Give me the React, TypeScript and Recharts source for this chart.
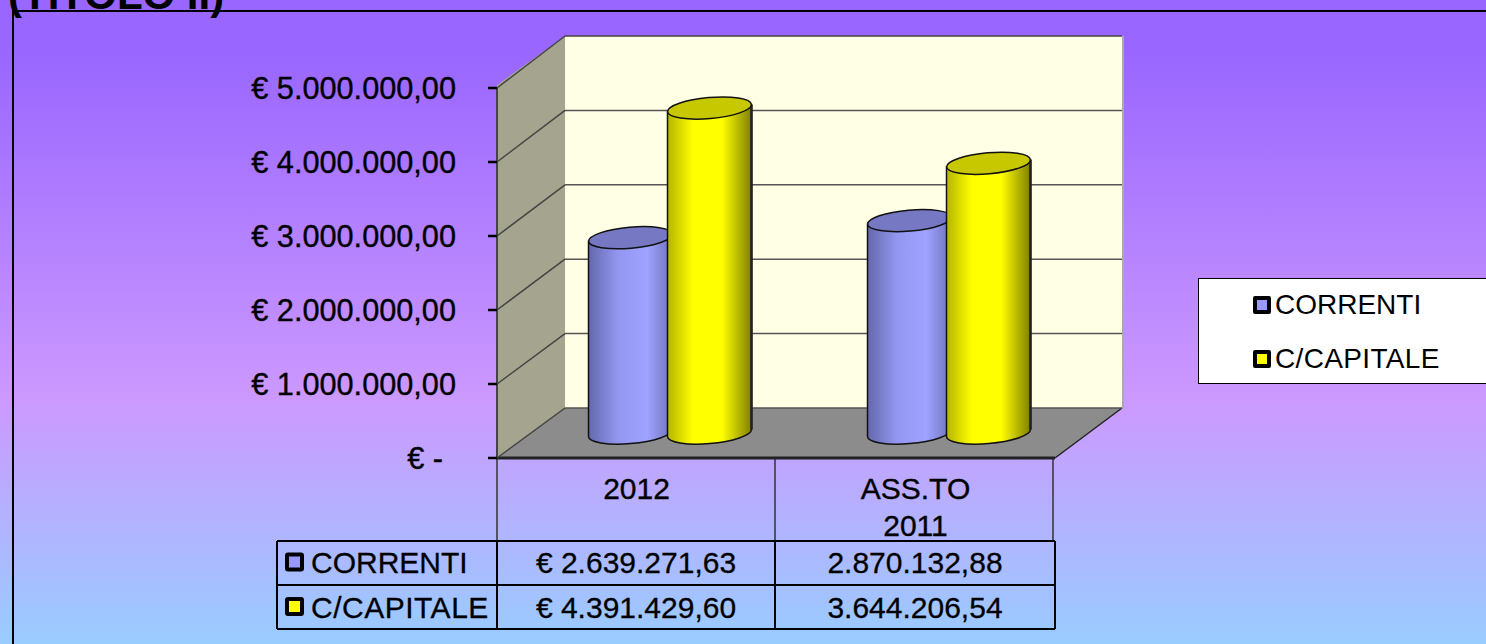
import React from "react"
import { BarChart, Bar, XAxis, YAxis, CartesianGrid, Legend } from "recharts"

const categories = ["2012", "ASS.TO 2011"]
const correnti = [2639271.63, 2870132.88]
const capitale = [4391429.6, 3644206.54]
const yTicks = [0, 1000000, 2000000, 3000000, 4000000, 5000000]
const seriesNames = ["CORRENTI", "C/CAPITALE"]
const seriesColors = ["#9999ff", "#ffff00"]

const rows = categories.map((name, i) => ({ name, correnti: correnti[i], capitale: capitale[i] }))

const FONT = "'Liberation Sans', Arial, sans-serif"

// the 3D look: the back wall sits up and to the right of the front axis
const DEPTH_X = 68
const DEPTH_Y = 50
const BAR_DX = 33.5
const BAR_DY = 25

const fmt = (v: number) =>
  v.toFixed(2).replace(".", ",").replace(/\B(?=(\d{3})+(?!\d))/g, ".")

function Cylinder(props: any) {
  const { x, y, width, height, dark, id } = props
  const cx = x + BAR_DX + width / 2
  const rx = width / 2
  const ry = 10.5
  const tilt = 3.5
  const top = y - BAR_DY
  const bottom = y + height - BAR_DY
  const l = cx - rx
  const r = cx + rx
  return (
    <g>
      <path
        d={`M${l},${top + tilt} L${l},${bottom + tilt} A${rx},${ry} -5 0 0 ${r},${bottom - tilt} L${r},${top - tilt} Z`}
        fill={`url(#${id})`}
        stroke="#111"
        strokeWidth={1.5}
      />
      <line x1={r} y1={top - tilt} x2={r} y2={bottom - tilt} stroke="#222" strokeWidth={2.5} />
      <ellipse cx={cx} cy={top} rx={rx} ry={ry} fill={dark} stroke="#111" strokeWidth={1.5} transform={`rotate(-5 ${cx} ${top})`} />
    </g>
  )
}

function YTick({ y, payload }: any) {
  const v = payload.value
  return (
    <g>
      <line x1={497} y1={y} x2={497 + DEPTH_X} y2={y - DEPTH_Y - (458 - y) * 0.0054} stroke="#444" strokeWidth={1.5} />
      <text x={v === 0 ? 443 : 456} y={y + 11} textAnchor="end" fontFamily={FONT} fontSize={30.7} fill="#000" stroke="#000" strokeWidth={0.35}>
        {v === 0 ? "€ -" : `€ ${fmt(v)}`}
      </text>
    </g>
  )
}

function XTick({ x, payload }: any) {
  const parts = String(payload.value).split(" ")
  return (
    <text textAnchor="middle" fontFamily={FONT} fontSize={30} fill="#000" stroke="#000" strokeWidth={0.35}>
      {parts.map((p: string, i: number) => (
        <tspan key={p} x={x} y={499 + i * 37}>
          {p}
        </tspan>
      ))}
    </text>
  )
}

function LegendBox() {
  return (
    <div style={{ width: 288, height: 106, background: "#fff", border: "1.5px solid #000", borderRight: "none", boxSizing: "border-box", position: "relative", fontFamily: FONT, fontSize: 28, color: "#000" }}>
      {seriesNames.map((s, i) => (
        <div key={s} style={{ position: "absolute", left: 54, top: 9 + i * 54, display: "flex", alignItems: "center", lineHeight: "34px", letterSpacing: i === 1 ? 0.35 : 0 }}>
          <span style={{ width: 18, height: 18, boxSizing: "border-box", border: "4px solid #000", borderRadius: 2, background: seriesColors[i], marginRight: 4 }} />
          {s}
        </div>
      ))}
    </div>
  )
}

function DataTable() {
  const xs = [277, 497, 775, 1055]
  const ys = [541, 585, 629]
  return (
    <g>
      {[497, 775, 1053].map((x) => (
        <line key={x} x1={x} y1={458} x2={x} y2={541} stroke="#333" strokeWidth={1.5} />
      ))}
      {xs.map((x) => (
        <line key={x} x1={x} y1={541} x2={x} y2={629} stroke="#000" strokeWidth={2} />
      ))}
      {ys.map((y) => (
        <line key={y} x1={277} y1={y} x2={1055} y2={y} stroke="#000" strokeWidth={2} />
      ))}
      {seriesNames.map((s, i) => {
        const vals = i === 0 ? correnti : capitale
        const y = 573 + i * 44.5
        return (
          <g key={s} fontFamily={FONT} fontSize={30} fill="#000" stroke="#000" strokeWidth={0.3}>
            <rect x={287} y={y - 18.5} width={15} height={15} fill={seriesColors[i]} stroke="#000" strokeWidth={4} rx={1} />
            <text x={311} y={y} letterSpacing={i === 1 ? 0.5 : 0}>{s}</text>
            <text x={636} y={y} textAnchor="middle">{`€ ${fmt(vals[0])}`}</text>
            <text x={915} y={y} textAnchor="middle">{fmt(vals[1])}</text>
          </g>
        )
      })}
    </g>
  )
}

export default function App() {
  return (
    <div
      style={{
        position: "absolute",
        left: 0,
        top: 0,
        width: 1486,
        height: 644,
        overflow: "hidden",
        background: "linear-gradient(180deg, #9966ff 0%, #9966ff 8%, #cc99ff 62%, #99ccff 100%)",
      }}
    >
      <svg width={1486} height={644} style={{ position: "absolute", left: 0, top: 0 }}>
        <polygon points="565,36 1122,36 1122,408 565,408" fill="#ffffe6" />
        <polygon points="497,85 565,36 565,408 497,458" fill="#a5a58f" />
        <polygon points="497,458 565,408 1122,408 1055,458" fill="#8c8c8c" />
        <line x1={565} y1={36} x2={1122} y2={36} stroke="#444" strokeWidth={1.5} />
        <line x1={1123} y1={36} x2={1123} y2={408} stroke="#aaa" strokeWidth={2} />
        <line x1={1055} y1={458} x2={1122} y2={408} stroke="#222" strokeWidth={1.5} />
      </svg>
      <div style={{ position: "absolute", left: 0, top: 0 }}>
        <BarChart
          width={1486}
          height={644}
          data={rows}
          barSize={84}
          barGap={-5}
          margin={{ top: 88, right: 431, bottom: 0, left: 0 }}
        >
          <defs>
            <linearGradient id="cylBlue" x1="0" x2="1" y1="0" y2="0">
              <stop offset="0" stopColor="#6468ad" />
              <stop offset="0.35" stopColor="#9397f0" />
              <stop offset="0.7" stopColor="#a0a3ff" />
              <stop offset="1" stopColor="#6c70b8" />
            </linearGradient>
            <linearGradient id="cylYellow" x1="0" x2="1" y1="0" y2="0">
              <stop offset="0" stopColor="#b5b500" />
              <stop offset="0.3" stopColor="#ffff00" />
              <stop offset="0.65" stopColor="#ffff00" />
              <stop offset="1" stopColor="#7f7f00" />
            </linearGradient>
          </defs>

          <text x={8} y={9} fontFamily={FONT} fontWeight="bold" fontSize={42} fill="#000">(TITOLO II)</text>
          <line x1={12} y1={11} x2={1486} y2={11} stroke="#000" strokeWidth={2} />
          <line x1={13} y1={10} x2={13} y2={644} stroke="#000" strokeWidth={2} />

          {/* grid lines live on the back wall, so they get the wall's own y positions */}
          <CartesianGrid
            x={565}
            width={557}
            vertical={false}
            stroke="#555"
            strokeWidth={1.5}
            horizontalPoints={yTicks.slice(0, 5).map((v) => 408 - (v / 5000000) * 372)}
          />

          <XAxis
            dataKey="name"
            height={186}
            interval={0}
            tick={<XTick />}
            tickLine={false}
            axisLine={{ stroke: "#222", strokeWidth: 3 }}
          />
          <YAxis
            width={497}
            domain={[0, 5000000]}
            ticks={yTicks}
            tick={<YTick />}
            tickSize={9}
            tickLine={{ stroke: "#000", strokeWidth: 2.5 }}
            axisLine={{ stroke: "#444", strokeWidth: 2 }}
          />

          <Bar dataKey="correnti" name={seriesNames[0]} fill={seriesColors[0]} isAnimationActive={false}
            shape={(p: any) => <Cylinder {...p} id="cylBlue" dark="#7678c4" />} />
          <Bar dataKey="capitale" name={seriesNames[1]} fill={seriesColors[1]} isAnimationActive={false}
            shape={(p: any) => <Cylinder {...p} id="cylYellow" dark="#c8c800" />} />

          <DataTable />
          <Legend
            layout="vertical"
            align="center"
            verticalAlign="middle"
            wrapperStyle={{ left: 1198, top: 278, width: 288, height: 106 }}
            content={<LegendBox />}
          />
        </BarChart>
      </div>
    </div>
  )
}
